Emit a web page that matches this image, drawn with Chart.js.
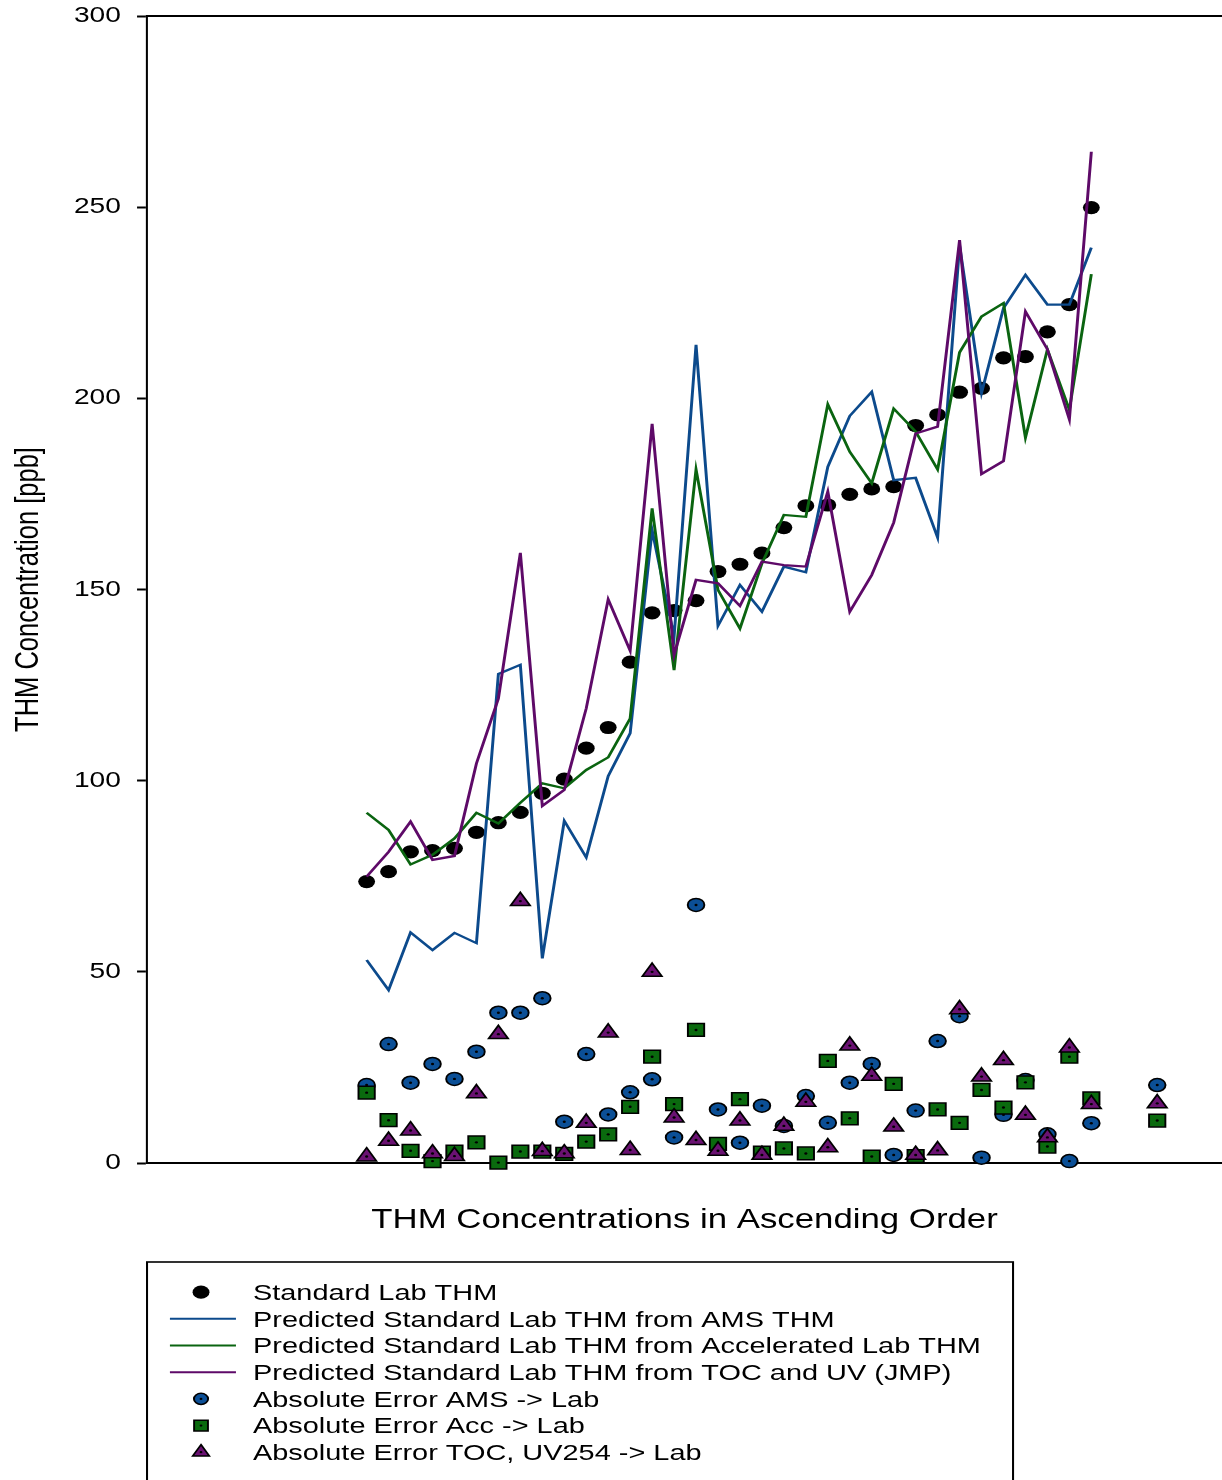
<!DOCTYPE html>
<html>
<head>
<meta charset="utf-8">
<title>THM Concentrations</title>
<script src="https://cdn.jsdelivr.net/npm/chart.js@4/dist/chart.umd.min.js"></script>
<style>
  html, body { margin: 0; padding: 0; background: #fff; }
  canvas { display: block; }
</style>
</head>
<body>
<canvas id="thm" width="955" height="1480"></canvas>
<script>
// ---- data -------------------------------------------------------------
// samples ranked by standard lab THM (position on the x axis)
const sampleOrder = [10, 11, 12, 13, 14, 15, 16, 17, 18, 19, 20, 21, 22, 23, 24, 25, 26,
                     27, 28, 29, 30, 31, 32, 33, 34, 35, 36, 37, 38, 39, 40, 41, 42, 43];
// error series carry one extra entry at position 46
const errorOrder = [10, 11, 12, 13, 14, 15, 16, 17, 18, 19, 20, 21, 22, 23, 24, 25, 26,
                    27, 28, 29, 30, 31, 32, 33, 34, 35, 36, 37, 38, 39, 40, 41, 42, 43, 46];

const labTHM = [73.6, 76.2, 81.4, 81.7, 82.3, 86.5, 89.0, 91.7, 96.7, 100.4, 108.5, 113.9,
                131.0, 143.9, 144.5, 147.1, 154.7, 156.6, 159.5, 166.2, 171.9, 172.1, 174.9,
                176.3, 176.9, 192.9, 195.7, 201.6, 202.6, 210.6, 210.9, 217.4, 224.5, 249.9];

const predAMS = [53.1, 45.2, 60.3, 55.7, 60.2, 57.5, 127.9, 130.3, 53.5, 89.5, 79.9, 101.2,
                 112.4, 165.5, 137.7, 214.0, 140.5, 151.2, 144.2, 156.0, 154.5, 182.1, 195.4,
                 201.7, 178.6, 179.2, 163.6, 240.0, 201.4, 223.6, 232.3, 224.5, 224.5, 239.4];

const predAcc = [91.6, 87.1, 78.1, 80.6, 84.9, 91.6, 88.8, 94.2, 99.3, 98.0, 102.8, 106.1,
                 116.3, 171.2, 128.9, 181.4, 149.9, 139.8, 156.8, 169.5, 169.0, 198.4, 186.0,
                 177.8, 197.3, 191.3, 181.4, 212.0, 221.4, 224.9, 189.7, 212.8, 197.0, 232.5];

const predTOC = [74.9, 81.4, 89.3, 79.3, 80.3, 104.5, 121.5, 159.6, 93.4, 97.6, 118.9, 147.4,
                 134.0, 193.3, 132.9, 152.5, 151.6, 145.7, 157.3, 156.4, 156.0, 175.6, 144.2,
                 153.8, 167.5, 190.8, 192.6, 241.4, 180.2, 183.6, 222.7, 212.8, 194.5, 264.5];

const errAMS = [20.4, 31.1, 21.0, 25.9, 22.0, 29.1, 39.3, 39.3, 43.1, 10.8, 28.5, 12.7,
                18.5, 21.9, 6.7, 67.5, 14.0, 5.3, 15.0, 9.7, 17.5, 10.5, 21.0, 25.9,
                2.1, 13.7, 31.9, 38.4, 1.4, 12.6, 21.7, 7.5, 0.5, 10.4, 20.4];

const errAcc = [18.4, 11.2, 3.2, 0.5, 3.0, 5.4, 0.1, 3.0, 3.0, 2.4, 5.6, 7.5,
                14.7, 27.8, 15.4, 34.8, 5.0, 16.7, 2.7, 3.8, 2.5, 26.7, 11.7, 1.7,
                20.7, 1.8, 14.0, 10.5, 19.1, 14.5, 21.1, 4.3, 27.8, 16.9, 11.1];

const errTOC = [1.7, 5.8, 8.5, 2.5, 1.8, 18.2, 33.7, 68.5, 3.1, 2.5, 10.5, 34.1,
                3.4, 50.0, 11.9, 6.0, 3.2, 11.1, 2.1, 9.7, 16.0, 4.1, 30.7, 22.8,
                9.5, 2.1, 3.3, 40.2, 22.6, 26.9, 12.6, 6.7, 30.2, 15.4, 15.6];

const yTicks = [0, 50, 100, 150, 200, 250, 300];

const seriesNames = [
  'Standard Lab THM',
  'Predicted Standard Lab THM from AMS THM',
  'Predicted Standard Lab THM from Accelerated Lab THM',
  'Predicted Standard Lab THM from TOC and UV (JMP)',
  'Absolute Error AMS -> Lab',
  'Absolute Error Acc -> Lab',
  'Absolute Error TOC, UV254 -> Lab'
];
const xTitle = 'THM Concentrations in Ascending Order';
const yTitle = 'THM Concentration [ppb]';

// ---- look ---------------------------------------------------------------
const FONT = '"Liberation Sans", Arial, Helvetica, sans-serif';
const PAGE_W = 1222, PAGE_H = 1480, LOGICAL_W = 955;
const SX = PAGE_W / LOGICAL_W;          // the figure is drawn widened horizontally

const C = {
  ink: '#000000',
  lineAMS: '#0c4a8c', lineAcc: '#0a6410', lineTOC: '#5e0a68',
  dotAMS: '#0b4f96', dotAcc: '#0a6a0e', dotTOC: '#6a1272'
};

const pts = (xs, ys) => ys.map((y, i) => ({ x: xs[i], y }));

// ---- plugins --------------------------------------------------------------
// widen everything horizontally before each paint
const widen = {
  id: 'widen',
  beforeDraw(chart) { chart.ctx.setTransform(SX, 0, 0, 1, 0, 0); }
};

// small black centre dot inside the error markers
const centreDot = {
  id: 'centreDot',
  afterDatasetDraw(chart, args) {
    const ds = chart.data.datasets[args.index];
    if (!ds.centerDot) return;
    const ctx = chart.ctx;
    ctx.save();
    ctx.fillStyle = C.ink;
    args.meta.data.forEach(p => {
      ctx.beginPath();
      ctx.arc(p.x, p.y, 1.2, 0, Math.PI * 2);
      ctx.fill();
    });
    ctx.restore();
  }
};

function drawMarker(ctx, ds, x, y, scale) {
  const r = ds.pointRadius * scale;
  ctx.save();
  ctx.fillStyle = ds.pointBackgroundColor;
  ctx.strokeStyle = ds.pointBorderColor;
  ctx.lineWidth = ds.pointBorderWidth;
  ctx.beginPath();
  if (ds.pointStyle === 'rect') {
    const s = r * Math.SQRT1_2;
    ctx.rect(x - s, y - s, 2 * s, 2 * s);
  } else if (ds.pointStyle === 'triangle') {
    const w = r * Math.sin(Math.PI / 3);
    ctx.moveTo(x, y - r);
    ctx.lineTo(x + w, y + r / 2);
    ctx.lineTo(x - w, y + r / 2);
    ctx.closePath();
  } else {
    ctx.arc(x, y, r, 0, Math.PI * 2);
  }
  ctx.fill();
  if (ds.pointBorderWidth) ctx.stroke();
  if (ds.centerDot) {
    ctx.fillStyle = C.ink;
    ctx.beginPath();
    ctx.arc(x, y, 1.1, 0, Math.PI * 2);
    ctx.fill();
  }
  ctx.restore();
}

// boxed legend below the plot, one entry per row
const boxedLegend = {
  id: 'boxedLegend',
  afterDraw(chart) {
    const ctx = chart.ctx;
    const box = { left: 114.9, right: 791.7, top: 1262, bottom: PAGE_H + 10 };
    const symX = 157.1, lineX0 = 132.8, lineX1 = 184.4, textX = 197.7;
    const row0 = 1292.2, rowStep = 26.67, fontSize = 22.6;
    ctx.save();
    ctx.strokeStyle = C.ink;
    ctx.lineWidth = 1.6;
    ctx.strokeRect(box.left, box.top, box.right - box.left, box.bottom - box.top);
    ctx.font = `${fontSize}px ${FONT}`;
    ctx.fillStyle = C.ink;
    ctx.textBaseline = 'alphabetic';
    chart.data.datasets.forEach((ds, i) => {
      const y = row0 + i * rowStep;
      if (ds.type === 'line') {
        ctx.save();
        ctx.strokeStyle = ds.borderColor;
        ctx.lineWidth = 2;
        ctx.beginPath();
        ctx.moveTo(lineX0, y);
        ctx.lineTo(lineX1, y);
        ctx.stroke();
        ctx.restore();
      } else {
        drawMarker(ctx, ds, symX, y, ds.centerDot ? 0.85 : 1);
      }
      ctx.fillText(ds.label, textX, y + fontSize * 0.34);
    });
    ctx.restore();
  }
};

// ---- chart ----------------------------------------------------------------
const canvas = document.getElementById('thm');
const chart = new Chart(canvas, {
  type: 'scatter',
  data: {
    datasets: [
      { label: seriesNames[0], type: 'scatter', data: pts(sampleOrder, labTHM),
        pointStyle: 'circle', pointRadius: 6.6, pointBackgroundColor: C.ink,
        pointBorderColor: C.ink, pointBorderWidth: 0, order: 10, clip: false },
      { label: seriesNames[1], type: 'line', data: pts(sampleOrder, predAMS),
        borderColor: C.lineAMS, borderWidth: 2.3, pointRadius: 0, fill: false, tension: 0, order: 7 },
      { label: seriesNames[2], type: 'line', data: pts(sampleOrder, predAcc),
        borderColor: C.lineAcc, borderWidth: 2.3, pointRadius: 0, fill: false, tension: 0, order: 6 },
      { label: seriesNames[3], type: 'line', data: pts(sampleOrder, predTOC),
        borderColor: C.lineTOC, borderWidth: 2.3, pointRadius: 0, fill: false, tension: 0, order: 5 },
      { label: seriesNames[4], type: 'scatter', data: pts(errorOrder, errAMS),
        pointStyle: 'circle', pointRadius: 6.5, pointBackgroundColor: C.dotAMS,
        pointBorderColor: C.ink, pointBorderWidth: 1.5, order: 3, clip: false, centerDot: true },
      { label: seriesNames[5], type: 'scatter', data: pts(errorOrder, errAcc),
        pointStyle: 'rect', pointRadius: 9, pointBackgroundColor: C.dotAcc,
        pointBorderColor: C.ink, pointBorderWidth: 1.5, order: 2, clip: false, centerDot: true },
      { label: seriesNames[6], type: 'scatter', data: pts(errorOrder, errTOC),
        pointStyle: 'triangle', pointRadius: 8.8, pointBackgroundColor: C.dotTOC,
        pointBorderColor: C.ink, pointBorderWidth: 1.5, order: 1, clip: false, centerDot: true }
    ]
  },
  options: {
    responsive: false,
    devicePixelRatio: 1,
    animation: false,
    events: [],
    layout: { autoPadding: false, padding: { top: 16, left: 0, right: 0, bottom: 0 } },
    plugins: { legend: { display: false }, tooltip: { enabled: false } },
    scales: {
      x: {
        type: 'linear', position: 'bottom', min: 0, max: 48.95,
        ticks: { display: false },
        grid: { display: false, drawTicks: false },
        border: { display: true, color: C.ink, width: 2 },
        title: { display: true, text: xTitle, color: C.ink,
                 font: { family: FONT, size: 27.2 }, padding: { top: 0, bottom: 243.5 } },
        afterFit(s) { s.height = 317; }
      },
      xTop: {
        type: 'linear', position: 'top', min: 0, max: 48.95,
        ticks: { display: false },
        grid: { display: false, drawTicks: false },
        border: { display: true, color: C.ink, width: 2 },
        afterFit(s) { s.height = 0; }
      },
      y: {
        type: 'linear', position: 'left', min: 0, max: 300,
        afterBuildTicks(s) { s.ticks = yTicks.map(v => ({ value: v })); },
        ticks: { color: C.ink, font: { family: FONT, size: 22 }, padding: 12.6 },
        grid: { drawOnChartArea: false, drawTicks: true, tickLength: 7.8,
                tickWidth: 2, tickColor: C.ink },
        border: { display: true, color: C.ink, width: 1.6 },
        title: { display: true, text: yTitle, color: C.ink,
                 font: { family: FONT, size: 25.5 }, padding: { top: 7.2, bottom: 0 } },
        afterFit(s) {
          s.width = 114.9;
          // the outer labels may overhang the plot edges freely
          s.paddingTop = 0;
          s.paddingBottom = 0;
        }
      }
    }
  },
  plugins: [widen, centreDot, boxedLegend]
});

// full-width backing store, then repaint through the widening transform
canvas.width = PAGE_W;
canvas.height = PAGE_H;
canvas.style.width = PAGE_W + 'px';
canvas.style.height = PAGE_H + 'px';
chart.draw();
</script>
</body>
</html>
